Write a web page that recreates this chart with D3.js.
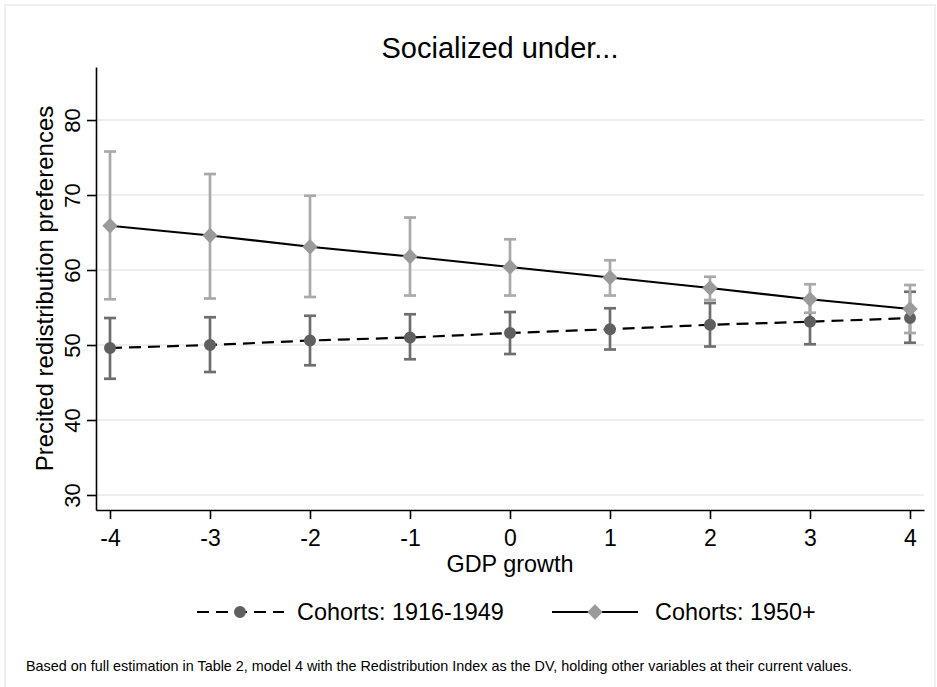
<!DOCTYPE html>
<html>
<head>
<meta charset="utf-8">
<script src="https://cdn.jsdelivr.net/npm/d3@7"></script>
<style>
  body { margin: 0; background: #fff; }
  svg text { font-family: "Liberation Sans", Arial, Helvetica, sans-serif; fill: #000; }
</style>
</head>
<body>
<div id="chart"></div>
<script>
// values
const gdp = [-4, -3, -2, -1, 0, 1, 2, 3, 4];

const oldEst = [49.6, 50.0, 50.6, 51.0, 51.6, 52.1, 52.7, 53.1, 53.6];
const oldLo  = [45.5, 46.4, 47.3, 48.1, 48.8, 49.4, 49.8, 50.1, 50.3];
const oldHi  = [53.6, 53.7, 53.9, 54.1, 54.4, 54.9, 55.6, 56.1, 57.1];

const youngEst = [65.9, 64.6, 63.1, 61.8, 60.4, 59.0, 57.6, 56.1, 54.8];
const youngLo  = [56.1, 56.2, 56.4, 56.6, 56.6, 56.6, 56.0, 54.3, 51.6];
const youngHi  = [75.8, 72.8, 69.9, 67.0, 64.1, 61.3, 59.1, 58.1, 58.0];

const yTicks = [30, 40, 50, 60, 70, 80];
const xTicks = [-4, -3, -2, -1, 0, 1, 2, 3, 4];
const seriesNames = ["Cohorts: 1916-1949", "Cohorts: 1950+"];

const W = 937, H = 687;
const svg = d3.select("#chart").append("svg")
    .attr("width", W)
    .attr("height", H);

// outer frame
svg.append("rect")
    .attr("x", 5).attr("y", 5)
    .attr("width", 930).attr("height", 700)
    .attr("fill", "#fff")
    .attr("stroke", "#ececec")
    .attr("stroke-width", 1.5);

const x = d3.scaleLinear().domain([-4.14, 4.14]).range([96, 924]);
const y = d3.scaleLinear().domain([28, 87.07]).range([510, 67]);

// gridlines
svg.append("g").selectAll("line")
    .data(yTicks)
    .enter().append("line")
    .attr("x1", x.range()[0]).attr("x2", x.range()[1])
    .attr("y1", d => y(d)).attr("y2", d => y(d))
    .attr("stroke", "#e8e8e8")
    .attr("stroke-width", 1.7);

// axes (labels added by hand below)
const yAxis = svg.append("g")
    .attr("transform", "translate(96,0)")
    .call(d3.axisLeft(y).tickValues(yTicks).tickSize(9).tickSizeOuter(0).tickFormat(""));
yAxis.selectAll("path, line").attr("stroke", "#000").attr("stroke-width", 1.6);

// y tick labels stand on their side, like in the reference
yAxis.selectAll(".tick").append("text")
    .attr("transform", "rotate(-90)")
    .attr("x", 0)
    .attr("y", -16)
    .attr("text-anchor", "middle")
    .attr("font-size", 22)
    .attr("fill", "#000")
    .text(d => d);

const xAxis = svg.append("g")
    .attr("transform", "translate(0,510)")
    .call(d3.axisBottom(x).tickValues(xTicks).tickSize(9).tickSizeOuter(0).tickFormat(""));
xAxis.selectAll("path, line").attr("stroke", "#000").attr("stroke-width", 1.6);

xAxis.selectAll(".tick").append("text")
    .attr("x", 0)
    .attr("y", 36)
    .attr("text-anchor", "middle")
    .attr("font-size", 23)
    .attr("fill", "#000")
    .text(d => String(d));

// titles
svg.append("text")
    .attr("x", 500).attr("y", 58)
    .attr("text-anchor", "middle")
    .attr("font-size", 29)
    .text("Socialized under...");

svg.append("text")
    .attr("x", 510).attr("y", 572)
    .attr("text-anchor", "middle")
    .attr("font-size", 23.4)
    .text("GDP growth");

svg.append("text")
    .attr("transform", "translate(53,288.5) rotate(-90)")
    .attr("text-anchor", "middle")
    .attr("font-size", 24)
    .text("Precited redistribution preferences");

// data rows
const older = gdp.map((g, i) => ({ g: g, est: oldEst[i], lo: oldLo[i], hi: oldHi[i] }));
const younger = gdp.map((g, i) => ({ g: g, est: youngEst[i], lo: youngLo[i], hi: youngHi[i] }));

function drawCI(rows, color) {
    const g = svg.append("g").attr("stroke", color).attr("stroke-width", 2.7);
    g.selectAll(".bar").data(rows).enter().append("line")
        .attr("x1", d => x(d.g)).attr("x2", d => x(d.g))
        .attr("y1", d => y(d.lo)).attr("y2", d => y(d.hi));
    g.selectAll(".capLo").data(rows).enter().append("line")
        .attr("x1", d => x(d.g) - 6).attr("x2", d => x(d.g) + 6)
        .attr("y1", d => y(d.lo)).attr("y2", d => y(d.lo));
    g.selectAll(".capHi").data(rows).enter().append("line")
        .attr("x1", d => x(d.g) - 6).attr("x2", d => x(d.g) + 6)
        .attr("y1", d => y(d.hi)).attr("y2", d => y(d.hi));
}

drawCI(older, "#6e6e6e");
drawCI(younger, "#a9a9a9");

const line = d3.line().x(d => x(d.g)).y(d => y(d.est));

svg.append("path")
    .datum(older)
    .attr("d", line)
    .attr("fill", "none")
    .attr("stroke", "#000")
    .attr("stroke-width", 2.2)
    .attr("stroke-dasharray", "12,7");

svg.append("path")
    .datum(younger)
    .attr("d", line)
    .attr("fill", "none")
    .attr("stroke", "#000")
    .attr("stroke-width", 2.2);

const circleSym = d3.symbol().type(d3.symbolCircle).size(113);
const squareSym = d3.symbol().type(d3.symbolSquare).size(118);

svg.append("g").selectAll("path")
    .data(older)
    .enter().append("path")
    .attr("d", circleSym)
    .attr("transform", d => `translate(${x(d.g)},${y(d.est)})`)
    .attr("fill", "#5f5f5f");

// diamonds = squares turned 45 degrees
svg.append("g").selectAll("path")
    .data(younger)
    .enter().append("path")
    .attr("d", squareSym)
    .attr("transform", d => `translate(${x(d.g)},${y(d.est)}) rotate(45)`)
    .attr("fill", "#9a9a9a");

// legend
const legY = 612;
const leg = svg.append("g");
leg.append("line")
    .attr("x1", 197).attr("x2", 284)
    .attr("y1", legY).attr("y2", legY)
    .attr("stroke", "#000").attr("stroke-width", 2.2)
    .attr("stroke-dasharray", "12,7");
leg.append("path")
    .attr("d", circleSym)
    .attr("transform", `translate(240,${legY})`)
    .attr("fill", "#5f5f5f");
leg.append("text")
    .attr("x", 297).attr("y", legY + 8.4)
    .attr("font-size", 23.4)
    .text(seriesNames[0]);

leg.append("line")
    .attr("x1", 552).attr("x2", 638)
    .attr("y1", legY).attr("y2", legY)
    .attr("stroke", "#000").attr("stroke-width", 2.2);
leg.append("path")
    .attr("d", squareSym)
    .attr("transform", `translate(595,${legY}) rotate(45)`)
    .attr("fill", "#9a9a9a");
leg.append("text")
    .attr("x", 655).attr("y", legY + 8.4)
    .attr("font-size", 23.4)
    .text(seriesNames[1]);

// note
svg.append("text")
    .attr("x", 26).attr("y", 671)
    .attr("font-family", "'Liberation Sans Narrow', 'Liberation Sans', Arial, sans-serif")
    .attr("font-size", 15)
    .attr("textLength", 826)
    .attr("lengthAdjust", "spacingAndGlyphs")
    .text("Based on full estimation in Table 2, model 4 with the Redistribution Index as the DV, holding other variables at their current values.");
</script>
</body>
</html>
